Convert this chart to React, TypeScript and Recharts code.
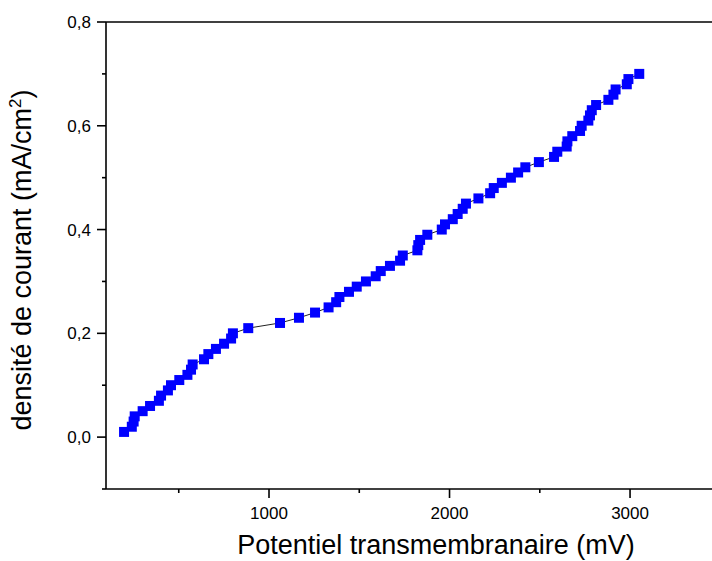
import { ComposedChart, Line, XAxis, YAxis, ReferenceLine, Label } from 'recharts';

// Potentiel transmembranaire (mV)
const potentiel = [
  197, 240, 250, 256, 300, 341, 390, 402, 440, 457,
  503, 548, 568, 577, 640, 664, 706, 751, 790, 800,
  885, 1061, 1166, 1255, 1330, 1372, 1390, 1443, 1486, 1537,
  1591, 1619, 1670, 1726, 1741, 1822, 1827, 1837, 1877, 1957,
  1975, 2018, 2045, 2073, 2091, 2160, 2225, 2245, 2290, 2340,
  2380, 2420, 2495, 2579, 2597, 2649, 2653, 2680, 2723, 2732,
  2769, 2778, 2788, 2812, 2880, 2908, 2920, 2982, 2991, 3051,
];

// densité de courant (mA/cm2)
const densite = [
  0.01, 0.02, 0.03, 0.04, 0.05, 0.06, 0.07, 0.08, 0.09, 0.1,
  0.11, 0.12, 0.13, 0.14, 0.15, 0.16, 0.17, 0.18, 0.19, 0.2,
  0.21, 0.22, 0.23, 0.24, 0.25, 0.26, 0.27, 0.28, 0.29, 0.3,
  0.31, 0.32, 0.33, 0.34, 0.35, 0.36, 0.37, 0.38, 0.39, 0.4,
  0.41, 0.42, 0.43, 0.44, 0.45, 0.46, 0.47, 0.48, 0.49, 0.5,
  0.51, 0.52, 0.53, 0.54, 0.55, 0.56, 0.57, 0.58, 0.59, 0.6,
  0.61, 0.62, 0.63, 0.64, 0.65, 0.66, 0.67, 0.68, 0.69, 0.7,
];

const yTicks = [-0.1, 0, 0.1, 0.2, 0.3, 0.4, 0.5, 0.6, 0.7, 0.8];
const yMajor = [0, 0.2, 0.4, 0.6, 0.8];
const xTicks = [500, 1000, 1500, 2000, 2500, 3000];
const xMajor = [1000, 2000, 3000];

const data = potentiel.map((x, i) => ({ x, y: densite[i] }));

const FONT = '"Liberation Sans", Arial, sans-serif';

const YTick = (props: any) => {
  const { x, y, payload } = props;
  const v = payload.value;
  const major = yMajor.some((m) => Math.abs(m - v) < 1e-6);
  const len = major ? 9 : 4;
  return (
    <g>
      <line x1={x} x2={x - len} y1={y} y2={y} stroke="#000" strokeWidth={1.6} />
      {major && (
        <text x={x - 15} y={y} dy={6} textAnchor="end" fontSize={17} fontFamily={FONT} fill="#000">
          {v.toFixed(1).replace('.', ',')}
        </text>
      )}
    </g>
  );
};

const XTick = (props: any) => {
  const { x, y, payload } = props;
  const v = payload.value;
  const major = xMajor.includes(v);
  const len = major ? 9 : 4;
  return (
    <g>
      <line x1={x} x2={x} y1={y} y2={y + len} stroke="#000" strokeWidth={1.6} />
      {major && (
        <text x={x} y={y + 30} textAnchor="middle" fontSize={17} fontFamily={FONT} fill="#000">
          {v}
        </text>
      )}
    </g>
  );
};

const SquareDot = (p: any) => (
  <rect key={p.index} x={p.cx - 5} y={p.cy - 5} width={10} height={10} fill="#0000ff" />
);

export default function App() {
  return (
    <div style={{ position: 'absolute', left: 0, top: 0, background: '#fff' }}>
      <ComposedChart width={712} height={561} data={data} margin={{ top: 22, right: 0, bottom: 0, left: 0 }}>
        <XAxis
          type="number"
          dataKey="x"
          domain={[97, 3454]}
          ticks={xTicks}
          interval={0}
          allowDataOverflow
          height={72}
          tickSize={0}
          tickMargin={0}
          tick={<XTick />}
          axisLine={{ stroke: '#000', strokeWidth: 1.6 }}
          tickLine={false}
        >
          <Label
            content={() => (
              <text x={436} y={554} textAnchor="middle" fontSize={27} fontFamily={FONT} fill="#000">
                Potentiel transmembranaire (mV)
              </text>
            )}
          />
        </XAxis>
        <YAxis
          type="number"
          domain={[-0.1, 0.8]}
          ticks={yTicks}
          interval={0}
          allowDataOverflow
          width={106}
          tickSize={0}
          tickMargin={0}
          tick={<YTick />}
          axisLine={{ stroke: '#000', strokeWidth: 1.6 }}
          tickLine={false}
        >
          <Label
            content={() => (
              <text
                x={31}
                y={260}
                transform="rotate(-90, 31, 260)"
                textAnchor="middle"
                fontSize={27}
                fontFamily={FONT}
                fill="#000"
              >
                densité de courant (mA/cm
                <tspan dy={-10} fontSize={17}>2</tspan>
                <tspan dy={10}>)</tspan>
              </text>
            )}
          />
        </YAxis>
        <ReferenceLine y={0.8} stroke="#000" strokeWidth={1.6} ifOverflow="extendDomain" />
        <Line
          type="linear"
          dataKey="y"
          stroke="#222"
          strokeWidth={1}
          dot={SquareDot}
          activeDot={false}
          isAnimationActive={false}
        />
      </ComposedChart>
    </div>
  );
}
